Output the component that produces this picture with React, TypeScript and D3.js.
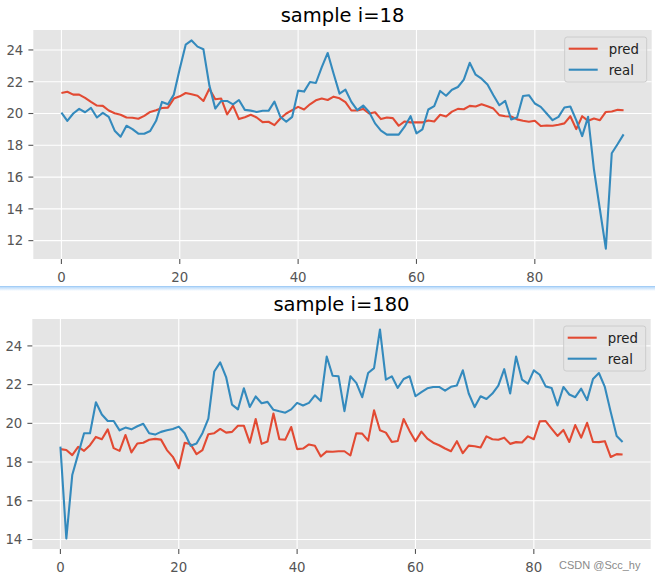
import React from 'react';
import * as d3 from 'd3';

// sample i=18
const pred18 = [
  21.29, 21.37, 21.19, 21.19, 20.98, 20.73, 20.5, 20.48, 20.19, 20.02,
  19.92, 19.75, 19.73, 19.67, 19.85, 20.1, 20.21, 20.35, 20.37, 20.94,
  21.08, 21.29, 21.21, 21.12, 20.79, 21.56, 20.9, 20.94, 19.94, 20.5,
  19.65, 19.77, 19.92, 19.75, 19.46, 19.48, 19.27, 19.69, 20.0, 20.21,
  20.42, 20.25, 20.58, 20.83, 20.94, 20.85, 21.06, 20.96, 20.71, 20.19,
  20.19, 20.29, 20.0, 20.08, 19.65, 19.75, 19.71, 19.23, 19.5, 19.44,
  19.44, 19.44, 19.56, 19.5, 19.92, 19.81, 20.12, 20.29, 20.27, 20.48,
  20.44, 20.58, 20.46, 20.31, 19.9, 19.83, 19.81, 19.63, 19.54, 19.48,
  19.54, 19.21, 19.25, 19.23, 19.29, 19.38, 19.83, 19.02, 19.83, 19.54,
  19.69, 19.58, 20.1, 20.13, 20.23, 20.21,
];
const real18 = [
  20.06, 19.54, 20.0, 20.29, 20.08, 20.35, 19.75, 20.04, 19.79, 18.92,
  18.54, 19.23, 19.02, 18.73, 18.73, 18.9, 19.54, 20.73, 20.58, 21.19,
  22.81, 24.33, 24.6, 24.21, 24.04, 21.77, 20.31, 20.79, 20.79, 20.58,
  20.85, 20.23, 20.18, 20.1, 20.17, 20.17, 20.75, 19.79, 19.48, 19.79,
  21.44, 21.38, 21.98, 21.92, 22.92, 23.81, 22.5, 21.25, 21.5, 20.73,
  20.21, 20.5, 20.1, 19.38, 18.92, 18.67, 18.67, 18.67, 19.17, 19.83,
  18.75, 19.0, 20.25, 20.46, 21.42, 21.12, 21.5, 21.67, 22.13, 23.19,
  22.44, 22.19, 21.83, 21.15, 20.52, 20.79, 19.63, 19.75, 21.1, 21.15,
  20.63, 20.42, 20.0, 19.58, 19.79, 20.38, 20.44, 19.58, 18.58, 19.79,
  16.46, 13.96, 11.5, 17.5, 18.08, 18.69,
];

// sample i=180
const pred180 = [
  18.67, 18.62, 18.36, 18.79, 18.58, 18.87, 19.3, 19.18, 19.69, 18.72,
  18.58, 19.4, 18.5, 18.96, 19.0, 19.15, 19.2, 19.16, 18.62, 18.27,
  17.68, 19.0, 18.92, 18.41, 18.62, 19.44, 19.49, 19.71, 19.52, 19.56,
  19.88, 19.88, 19.0, 20.22, 18.94, 19.06, 20.51, 19.18, 19.16, 19.81,
  18.67, 18.7, 18.91, 18.84, 18.29, 18.55, 18.53, 18.56, 18.56, 18.34,
  19.49, 19.47, 19.11, 20.67, 19.64, 19.52, 19.04, 19.09, 20.22, 19.61,
  19.08, 19.57, 19.21, 19.0, 18.87, 18.7, 18.56, 19.08, 18.46, 18.85,
  18.82, 18.75, 19.33, 19.18, 19.15, 19.26, 18.94, 19.03, 19.01, 19.33,
  19.18, 20.1, 20.12, 19.73, 19.35, 19.66, 19.04, 19.91, 19.26, 20.03,
  19.04, 19.03, 19.08, 18.26, 18.41, 18.39,
];
const real180 = [
  18.8, 14.05, 17.33, 18.41, 19.49, 19.49, 21.09, 20.46, 20.12, 20.12,
  19.64, 19.78, 19.69, 19.85, 19.98, 19.49, 19.42, 19.56, 19.64, 19.71,
  19.83, 19.49, 18.84, 18.96, 19.49, 20.24, 22.68, 23.15, 22.39, 20.97,
  20.72, 21.81, 20.85, 21.39, 21.04, 21.11, 20.7, 20.62, 20.55, 20.72,
  21.06, 20.92, 21.06, 21.45, 21.15, 23.45, 22.46, 22.43, 20.63, 22.43,
  22.09, 21.35, 22.6, 22.85, 24.85, 22.26, 22.43, 21.83, 22.29, 22.43,
  21.4, 21.61, 21.81, 21.88, 21.88, 21.69, 21.89, 21.96, 22.74, 21.54,
  20.84, 21.4, 21.26, 21.54, 21.95, 22.8, 21.54, 23.45, 22.26, 22.05,
  22.74, 22.51, 21.91, 21.83, 20.92, 21.88, 21.49, 21.35, 21.79, 21.2,
  22.29, 22.6, 21.88, 20.58, 19.35, 19.04,
];

const xTicks = [0, 20, 40, 60, 80];
const yTicks18 = [12, 14, 16, 18, 20, 22, 24];
const yTicks180 = [14, 16, 18, 20, 22, 24];
const seriesNames = ['pred', 'real'];

const RED = '#E24A33';
const BLUE = '#348ABD';
const FONT = '"DejaVu Sans", sans-serif';

function Panel({ title, pred, real, yTicks, box, titleY }) {
  const n = pred.length;
  const span = n - 1;
  const x = d3.scaleLinear()
    .domain([-0.05 * span, span * 1.05])
    .range([box.left, box.right]);

  const all = pred.concat(real);
  const [lo, hi] = d3.extent(all);
  const pad = (hi - lo) * 0.05;
  const y = d3.scaleLinear()
    .domain([lo - pad, hi + pad])
    .range([box.bottom, box.top]);

  const line = d3.line().x((d, i) => x(i)).y(d => y(d));

  const lx = box.right - 87;
  const ly = box.top + 7;

  return (
    <g>
      <rect x={box.left} y={box.top} width={box.right - box.left} height={box.bottom - box.top} fill="#E5E5E5" />
      {xTicks.map(t => (
        <line key={'gx' + t} x1={x(t)} x2={x(t)} y1={box.top} y2={box.bottom} stroke="#fff" strokeWidth={1.1} />
      ))}
      {yTicks.map(t => (
        <line key={'gy' + t} x1={box.left} x2={box.right} y1={y(t)} y2={y(t)} stroke="#fff" strokeWidth={1.1} />
      ))}
      <path d={line(pred)} fill="none" stroke={RED} strokeWidth={2.1} strokeLinejoin="round" />
      <path d={line(real)} fill="none" stroke={BLUE} strokeWidth={2.1} strokeLinejoin="round" />

      {xTicks.map(t => (
        <g key={'tx' + t}>
          <line x1={x(t)} x2={x(t)} y1={box.bottom} y2={box.bottom + 4.9} stroke="#555" strokeWidth={1.1} />
          <text x={x(t)} y={box.bottom + 22.5} textAnchor="middle" fontFamily={FONT} fontSize={13.3} fill="#555">{t}</text>
        </g>
      ))}
      {yTicks.map(t => (
        <g key={'ty' + t}>
          <line x1={box.left - 4.9} x2={box.left} y1={y(t)} y2={y(t)} stroke="#555" strokeWidth={1.1} />
          <text x={box.left - 10} y={y(t) + 4.8} textAnchor="end" fontFamily={FONT} fontSize={13.3} fill="#555">{t}</text>
        </g>
      ))}

      <text x={(box.left + box.right) / 2} y={titleY} textAnchor="middle" fontFamily={FONT} fontSize={19.5} fill="#000">{title}</text>

      <rect x={lx} y={ly} width={82} height={45} rx={2.5} fill="#E5E5E5" fillOpacity={0.8} stroke="#cccccc" strokeWidth={1} />
      {seriesNames.map((name, i) => (
        <g key={name}>
          <line x1={lx + 4} x2={lx + 33} y1={ly + 11.7 + i * 21} y2={ly + 11.7 + i * 21} stroke={i === 0 ? RED : BLUE} strokeWidth={2.1} />
          <text x={lx + 44} y={ly + 16.5 + i * 21} fontFamily={FONT} fontSize={13.3} fill="#222">{name}</text>
        </g>
      ))}
    </g>
  );
}

export default function App() {
  return (
    <svg width={655} height={581} style={{ position: 'absolute', left: 0, top: 0, background: '#fff' }}>
      <rect width={655} height={581} fill="#fff" />
      <Panel title="sample i=18" pred={pred18} real={real18} yTicks={yTicks18}
        box={{ left: 33.3, right: 651.7, top: 30, bottom: 259 }} titleY={21.5} />

      <defs>
        <linearGradient id="sep" x1="0" y1="0" x2="0" y2="1">
          <stop offset="0" stopColor="#b9dafa" />
          <stop offset="1" stopColor="#ffffff" />
        </linearGradient>
      </defs>
      <line x1={0} x2={655} y1={286.5} y2={286.5} stroke="#a3cdf6" strokeWidth={1} />
      <rect x={0} y={287} width={655} height={4} fill="url(#sep)" />

      <Panel title="sample i=180" pred={pred180} real={real180} yTicks={yTicks180}
        box={{ left: 32.3, right: 650.7, top: 319, bottom: 549 }} titleY={310.5} />

      <text x={559} y={569} fontFamily='"Liberation Sans", Arial, sans-serif' fontSize={11} fill="#8a8a8a">CSDN @Scc_hy</text>
    </svg>
  );
}
